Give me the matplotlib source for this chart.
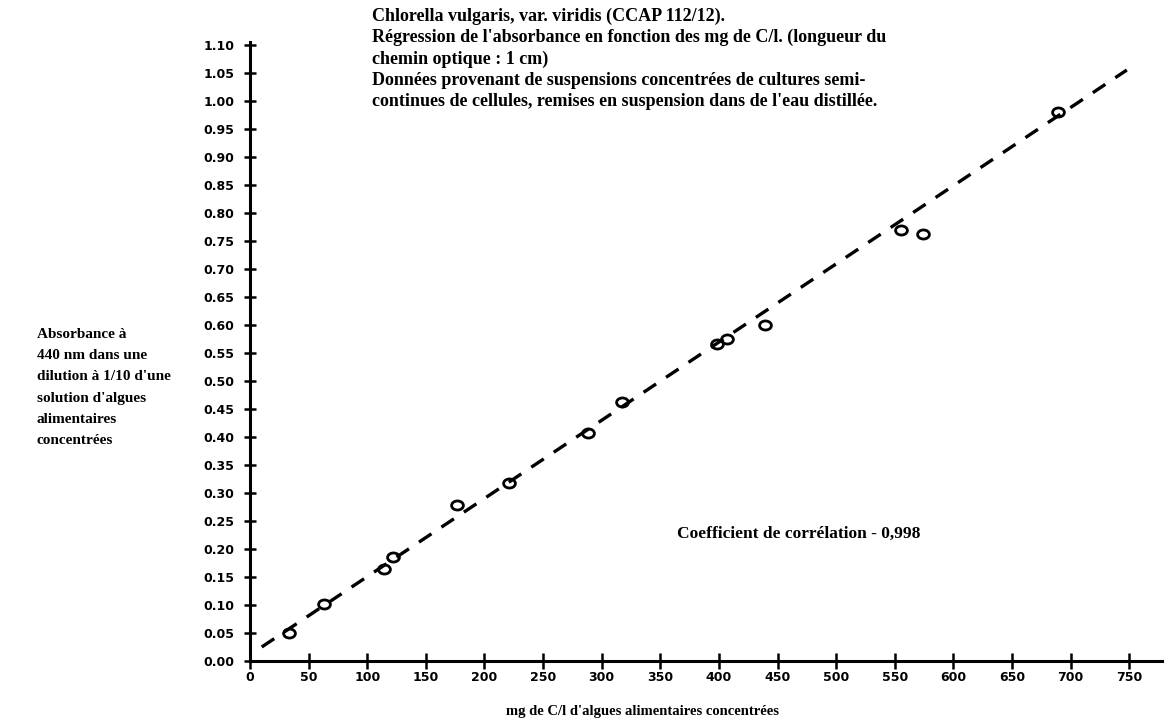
import numpy as np
import matplotlib
matplotlib.use("Agg")
import matplotlib.pyplot as plt
from matplotlib.path import Path
from matplotlib.transforms import Affine2D

# measured points (mg C/l, absorbance)
conc = [33, 63, 114, 122, 177, 221, 288, 317, 398, 407, 439, 555, 574, 689]
absorb = [0.050, 0.101, 0.165, 0.186, 0.279, 0.318, 0.407, 0.462, 0.565, 0.574, 0.600, 0.770, 0.762, 0.980]

# regression line end points
line_x = [10, 748]
line_y = [0.025, 1.055]

x_ticks = list(range(0, 751, 50))
y_ticks = [round(0.05 * i, 2) for i in range(23)]

title_lines = [
    "Chlorella vulgaris, var. viridis (CCAP 112/12).",
    "Régression de l'absorbance en fonction des mg de C/l. (longueur du",
    "chemin optique : 1 cm)",
    "Données provenant de suspensions concentrées de cultures semi-",
    "continues de cellules, remises en suspension dans de l'eau distillée.",
]
ylabel_lines = [
    "Absorbance à",
    "440 nm dans une",
    "dilution à 1/10 d'une",
    "solution d'algues",
    "alimentaires",
    "concentrées",
]
xlabel = "mg de C/l d'algues alimentaires concentrées"
corr_text = "Coefficient de corrélation - 0,998"

W, H = 1174, 726
fig = plt.figure(figsize=(W / 100, H / 100), dpi=100)
fig.patch.set_facecolor("white")

# axes placed in pixel terms of the scan
left, right, top, bottom = 250, 1162, 42, 661
ax = fig.add_axes([left / W, (H - bottom) / H, (right - left) / W, (bottom - top) / H])

ell = Path.unit_circle().transformed(Affine2D().scale(1.3, 1.0))
ax.plot(line_x, line_y, color="black", lw=2.4, dashes=(4.5, 3.6))
ax.plot(conc, absorb, linestyle="none", marker=ell, markersize=8.5,
        markerfacecolor="none", markeredgecolor="black", markeredgewidth=2.0)

ax.set_xlim(0, 778)
ax.set_ylim(0, 1.105)
for s in ["top", "right"]:
    ax.spines[s].set_visible(False)
for s in ["left", "bottom"]:
    ax.spines[s].set_linewidth(2.2)

ax.set_xticks(x_ticks)
ax.set_yticks(y_ticks)
ax.set_yticklabels(["%.2f" % v for v in y_ticks])
tick_font = dict(family="DejaVu Sans", weight="bold", size=9)
for lab in ax.get_xticklabels() + ax.get_yticklabels():
    lab.set_fontproperties(matplotlib.font_manager.FontProperties(**tick_font))
ax.tick_params(axis="x", direction="inout", length=12, width=1.8, pad=1)
ax.tick_params(axis="y", direction="inout", length=8, width=1.8, pad=7)

serif = dict(family="Liberation Serif", weight="bold", color="black")

def px(x, y):
    return x / W, 1 - y / H

for i, t in enumerate(title_lines):
    fig.text(*px(372, 16 + 21.5 * i), t, fontsize=13, va="center", ha="left", **serif)

for i, t in enumerate(ylabel_lines):
    fig.text(*px(37, 334 + 21.4 * i), t, fontsize=11, va="center", ha="left", **serif)

fig.text(*px(677, 534), corr_text, fontsize=12.5, va="center", ha="left", **serif)
fig.text(*px(642, 712), xlabel, fontsize=10.5, va="center", ha="center", **serif)

fig.savefig("out.png", dpi=100, facecolor="white")
